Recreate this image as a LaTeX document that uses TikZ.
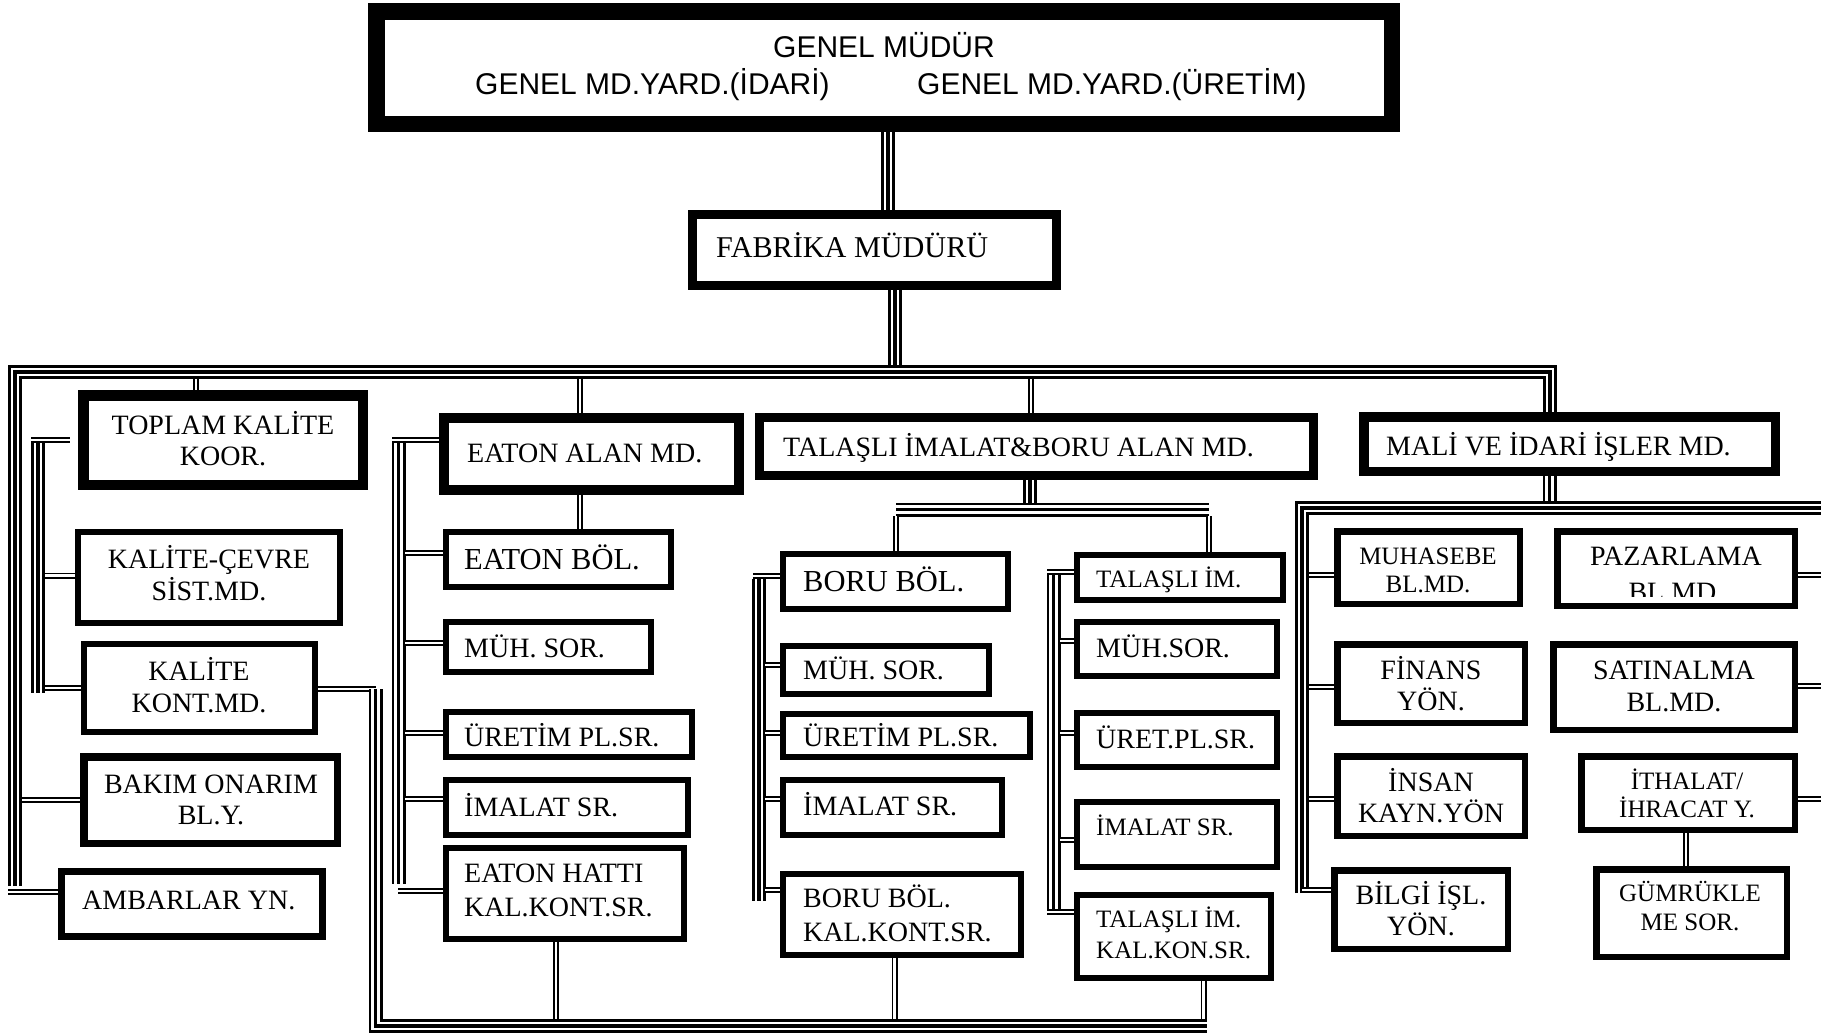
\documentclass[tikz,border=0pt]{standalone}
\usepackage{fontspec}
\setmainfont{Liberation Serif}
\newfontfamily\arialf{Liberation Sans}
\newcommand\orgbox[6]{%
  \node[box, line width=#6pt, minimum width={(#4)-(#2)-(#6)}, minimum height={(#5)-(#3)-(#6)}]
    (#1) at ({((#2)+(#4))/2},{((#3)+(#5))/2}) {};}
\begin{document}
\begin{tikzpicture}[x=1pt,y=-1pt,line join=miter,
  trip/.style={draw=white, line width=8.5pt,
     preaction={draw=black, line width=14pt},
     postaction={draw=black, line width=3.5pt}},
  dbl/.style={draw=black, double=white, double distance=2.8pt, line width=1.6pt},
  box/.style={draw=black, fill=white, inner sep=0pt},
  fsans/.style={font=\arialf\fontsize{30}{36}\selectfont, inner sep=0pt},
  fA/.style={font=\fontsize{30.2}{36}\selectfont, inner sep=0pt},
  fB/.style={font=\fontsize{30.5}{34}\selectfont, inner sep=0pt},
  fC/.style={font=\fontsize{28}{32}\selectfont, inner sep=0pt},
  fD/.style={font=\fontsize{25}{30}\selectfont, inner sep=0pt},
  fE/.style={font=\fontsize{25}{29}\selectfont, inner sep=0pt}]
\useasboundingbox (0,0) rectangle (1840,1034);

% ---------- boxes ----------
\orgbox{genel}{368}{3}{1400}{132}{16.5}
\orgbox{fab}{688}{210}{1061}{290}{9}
\orgbox{toplam}{78}{390}{368}{490}{10.5}
\orgbox{ea}{439}{413}{744}{495}{10}
\orgbox{ta}{755}{413}{1318}{480}{9}
\orgbox{mali}{1359}{412}{1780}{476}{9.5}
\orgbox{kcs}{75}{529}{343}{626}{6}
\orgbox{kk}{81}{641}{318}{735}{6}
\orgbox{bakim}{80}{753}{341}{847}{7.5}
\orgbox{amb}{58}{868}{326}{940}{7}
\orgbox{eb}{443}{529}{674}{590}{6}
\orgbox{em}{443}{619}{654}{675}{6}
\orgbox{eu}{443}{709}{695}{760}{6}
\orgbox{ei}{443}{777}{691}{838}{6}
\orgbox{eh}{443}{845}{687}{942}{6}
\orgbox{bb}{780}{551}{1011}{612}{6}
\orgbox{bm}{780}{643}{992}{697}{6}
\orgbox{bu}{780}{711}{1033}{760}{6}
\orgbox{bi}{780}{777}{1005}{838}{6}
\orgbox{bk}{780}{871}{1024}{958}{6}
\orgbox{ti}{1074}{552}{1286}{603}{6}
\orgbox{tm}{1074}{619}{1280}{679}{6}
\orgbox{tu}{1074}{710}{1280}{770}{6}
\orgbox{tim}{1074}{799}{1280}{870}{6}
\orgbox{tk}{1074}{892}{1274}{981}{6}
\orgbox{muh}{1334}{528}{1523}{607}{6.5}
\orgbox{paz}{1554}{528}{1798}{609}{6.5}
\orgbox{fin}{1334}{641}{1528}{726}{6.5}
\orgbox{sat}{1550}{641}{1798}{733}{6.5}
\orgbox{ins}{1334}{753}{1528}{839}{6.5}
\orgbox{ith}{1578}{753}{1798}{833}{6.5}
\orgbox{bil}{1331}{867}{1511}{952}{6.5}
\orgbox{gum}{1593}{866}{1790}{960}{6.5}

% ---------- connectors ----------
% top
\draw[trip] (888,0 |- genel.south) -- (888,0 |- fab.north);
\draw[trip] (895,0 |- fab.south) -- (895,372);
% main bus
\draw[trip] (15,886) -- (15,372) -- (1550,372) -- (1550,0 |- mali.north);
\draw[dbl] (196,379) -- (196,0 |- toplam.north);
\draw[dbl] (580,379) -- (580,0 |- ea.north);
\draw[dbl] (1031,379) -- (1031,0 |- ta.north);
% left outer
\draw[dbl] (22,800) -- (bakim.west |- 0,800);
\draw[dbl] (8,892) -- (amb.west |- 0,892);
% inner left
\draw[trip] (38,443) -- (38,693);
\draw[dbl] (31,440) -- (70,440);
\draw[dbl] (45,575.5) -- (kcs.west |- 0,575.5);
\draw[dbl] (45,688) -- (kk.west |- 0,688);
% kalite kont to bottom bus
\draw[dbl] (kk.east |- 0,689) -- (376,689);
\draw[trip] (375.5,689) -- (375.5,1026) -- (1207,1026);
\draw[dbl] (556,0 |- eh.south) -- (556,1019);
\draw[dbl] (894.5,0 |- bk.south) -- (894.5,1019);
\draw[dbl] (1203.5,0 |- tk.south) -- (1203.5,1019);
% eaton
\draw[dbl] (580,0 |- ea.south) -- (580,0 |- eb.north);
\draw[trip] (398.5,443) -- (398.5,884);
\draw[dbl] (392,440) -- (ea.west |- 0,440);
\draw[dbl] (405,553) -- (eb.west |- 0,553);
\draw[dbl] (405,643) -- (em.west |- 0,643);
\draw[dbl] (405,733) -- (eu.west |- 0,733);
\draw[dbl] (405,799) -- (ei.west |- 0,799);
\draw[dbl] (398,891) -- (eh.west |- 0,891);
% talasli sub-bus
\draw[trip] (1030,0 |- ta.south) -- (1030,503);
\draw[trip] (896,509.5) -- (1209,509.5);
\draw[dbl] (896,516) -- (896,0 |- bb.north);
\draw[dbl] (1209,516) -- (1209,0 |- ti.north);
% boru column
\draw[trip] (759,579) -- (759,901);
\draw[dbl] (753,576) -- (bb.west |- 0,576);
\draw[dbl] (765,665) -- (bm.west |- 0,665);
\draw[dbl] (765,733) -- (bu.west |- 0,733);
\draw[dbl] (765,799) -- (bi.west |- 0,799);
\draw[dbl] (765,890) -- (bk.west |- 0,890);
% talasli column
\draw[trip] (1053.5,574) -- (1053.5,910);
\draw[dbl] (1047,572) -- (ti.west |- 0,572);
\draw[dbl] (1060,641) -- (tm.west |- 0,641);
\draw[dbl] (1060,733) -- (tu.west |- 0,733);
\draw[dbl] (1060,840) -- (tim.west |- 0,840);
\draw[dbl] (1047,912) -- (tk.west |- 0,912);
% mali
\draw[trip] (1549.5,0 |- mali.south) -- (1549.5,501);
\draw[trip] (1302,893) -- (1302,508) -- (1821,508);
\draw[dbl] (1309,575) -- (muh.west |- 0,575);
\draw[dbl] (1309,687) -- (fin.west |- 0,687);
\draw[dbl] (1309,799) -- (ins.west |- 0,799);
\draw[dbl] (1302,890) -- (bil.west |- 0,890);
\draw[dbl] (paz.east |- 0,575) -- (1821,575);
\draw[dbl] (sat.east |- 0,686) -- (1821,686);
\draw[dbl] (ith.east |- 0,799) -- (1821,799);
\draw[dbl] (1686,0 |- ith.south) -- (1686,0 |- gum.north);

% ---------- texts ----------
\node[fsans, anchor=base] (t1) at (884,57) {GENEL MÜDÜR};
\node[fsans, anchor=base west] (t2) at (475,94) {GENEL MD.YARD.(İDARİ)};
\node[fsans, anchor=base west] (t3) at (917,94) {GENEL MD.YARD.(ÜRETİM)};
\node[fA, anchor=base west] (t4) at (716,257) {FABRİKA MÜDÜRÜ};
\node[fC, anchor=base] (t5) at (223,434) {TOPLAM KALİTE};
\node[fC, anchor=base] (t6) at (223,465) {KOOR.};
\node[fC, anchor=base west] (t7) at (467,462) {EATON ALAN MD.};
\node[fC, anchor=base west] (t8) at (783,456) {TALAŞLI İMALAT\&BORU ALAN MD.};
\node[fC, anchor=base west] (t9) at (1386,455) {MALİ VE İDARİ İŞLER MD.};
\node[fC, anchor=base] (t10) at (209,568) {KALİTE-ÇEVRE};
\node[fC, anchor=base] (t11) at (209,600) {SİST.MD.};
\node[fC, anchor=base] (t12) at (199,680) {KALİTE};
\node[fC, anchor=base] (t13) at (199,712) {KONT.MD.};
\node[fC, anchor=base] (t14) at (211,793) {BAKIM ONARIM};
\node[fC, anchor=base] (t15) at (211,824) {BL.Y.};
\node[fC, anchor=base west] (t16) at (82,909) {AMBARLAR YN.};
\node[fB, anchor=base west] (t17) at (464,569) {EATON BÖL.};
\node[fC, anchor=base west] (t18) at (464,657) {MÜH. SOR.};
\node[fC, anchor=base west] (t19) at (464,746) {ÜRETİM PL.SR.};
\node[fC, anchor=base west] (t20) at (464,816) {İMALAT SR.};
\node[fC, anchor=base west] (t21) at (464,882) {EATON HATTI};
\node[fC, anchor=base west] (t22) at (464,916) {KAL.KONT.SR.};
\node[fB, anchor=base west] (t23) at (803,591) {BORU BÖL.};
\node[fC, anchor=base west] (t24) at (803,679) {MÜH. SOR.};
\node[fC, anchor=base west] (t25) at (803,746) {ÜRETİM PL.SR.};
\node[fC, anchor=base west] (t26) at (803,815) {İMALAT SR.};
\node[fC, anchor=base west] (t27) at (803,907) {BORU BÖL.};
\node[fC, anchor=base west] (t28) at (803,941) {KAL.KONT.SR.};
\node[fE, anchor=base west] (t29) at (1096,587) {TALAŞLI İM.};
\node[fC, anchor=base west] (t30) at (1096,657) {MÜH.SOR.};
\node[fC, anchor=base west] (t31) at (1096,748) {ÜRET.PL.SR.};
\node[fE, anchor=base west] (t32) at (1096,835) {İMALAT SR.};
\node[fE, anchor=base west] (t33) at (1096,927) {TALAŞLI İM.};
\node[fE, anchor=base west] (t34) at (1096,958) {KAL.KON.SR.};
\node[fD, anchor=base] (t35) at (1428,564) {MUHASEBE};
\node[fD, anchor=base] (t36) at (1428,592) {BL.MD.};
\node[fC, anchor=base] (t37) at (1676,565) {PAZARLAMA};
\begin{scope}
\clip (1560,580) rectangle (1792,596);
\node[fC, anchor=base] (t38) at (1676,601) {BL.MD.};
\end{scope}
\node[fC, anchor=base] (t39) at (1431,679) {FİNANS};
\node[fC, anchor=base] (t40) at (1431,710) {YÖN.};
\node[fC, anchor=base] (t41) at (1674,679) {SATINALMA};
\node[fC, anchor=base] (t42) at (1674,711) {BL.MD.};
\node[fC, anchor=base] (t43) at (1431,791) {İNSAN};
\node[fC, anchor=base] (t44) at (1431,822) {KAYN.YÖN};
\node[fC, anchor=base] (t45) at (1421,904) {BİLGİ İŞL.};
\node[fC, anchor=base] (t46) at (1421,935) {YÖN.};
\node[fE, anchor=base] (t47) at (1687,789) {İTHALAT/};
\node[fE, anchor=base] (t48) at (1687,817) {İHRACAT Y.};
\node[fE, anchor=base] (t49) at (1690,901) {GÜMRÜKLE};
\node[fE, anchor=base] (t50) at (1690,930) {ME SOR.};
\end{tikzpicture}
\end{document}
